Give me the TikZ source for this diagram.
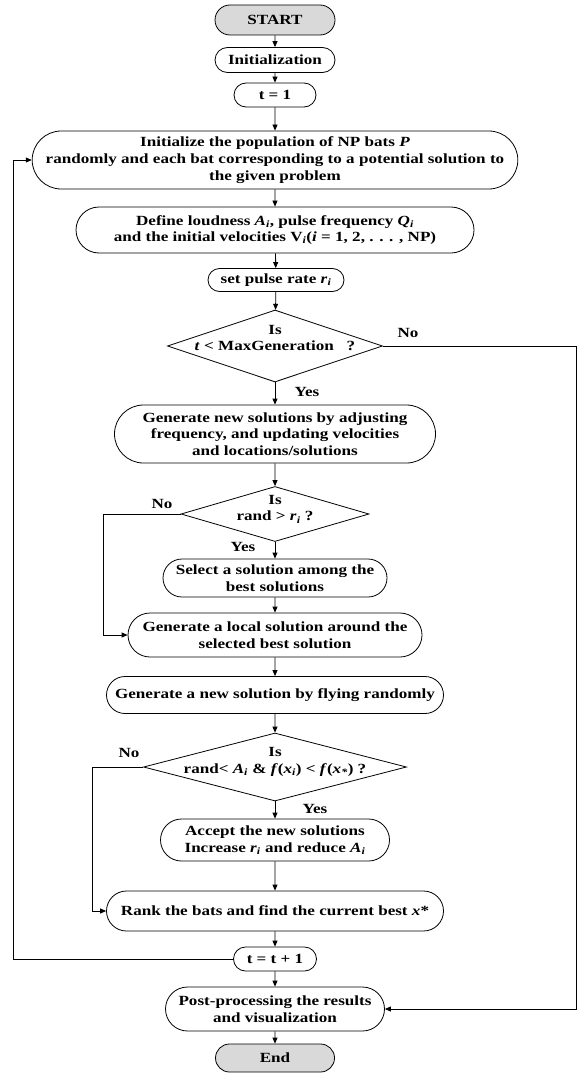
\documentclass[tikz,border=0pt]{standalone}
\usepackage{fontspec}
\setmainfont{Liberation Serif}[FakeStretch=1.22]
\usetikzlibrary{shapes.misc,shapes.geometric,arrows.meta}
\definecolor{termgray}{RGB}{217,217,217}
\newcommand{\sub}[2]{\textit{#1}\textsubscript{\textit{#2}}}

\tikzset{
  box/.style={rounded rectangle, draw, line width=0.8pt, align=center, inner sep=2pt,
    font=\fontsize{14}{16.7}\selectfont\bfseries},
  term/.style={box, fill=termgray},
  decision/.style={diamond, draw, line width=0.8pt, inner sep=0pt},
  tag/.style={font=\fontsize{14}{16.7}\selectfont\bfseries, inner sep=0pt, align=center},
  flow/.style={line width=0.8pt, -{Triangle[length=6pt,width=5pt]}},
}

\begin{document}
\begin{tikzpicture}[x=1pt,y=-1pt]
\path[use as bounding box] (0,0) rectangle (577,1073);

\node[term, minimum width=124, minimum height=30] (start) at (275,20) {START};
\node[box, minimum width=124, minimum height=25] (init) at (275,60) {Initialization};
\node[box, minimum width=86, minimum height=24] (tone) at (275,95) {t = 1};
\node[box, minimum width=476, minimum height=58] (pop) at (275,160)
  {Initialize the population of NP bats \textit{P}\\randomly and each bat corresponding to a potential solution to\\the given problem};
\node[box, minimum width=402, minimum height=46] (define) at (275,230)
  {Define loudness \sub{A}{i}, pulse frequency \sub{Q}{i}\\and the initial velocities V\textsubscript{\textit{i}}(\textit{i} = 1, 2, . . . , NP)};
\node[box, minimum width=140, minimum height=23] (pulse) at (276,280) {set pulse rate \sub{r}{i}};
\node[decision, minimum width=215, minimum height=72] (isgen) at (275,346) {};
\node[tag] (isgentext) at ([yshift=8pt]isgen.center) {Is\\\textit{t} < MaxGeneration~~~?};
\node[box, minimum width=325, minimum height=58] (gensol) at (275,434)
  {Generate new solutions by adjusting\\frequency, and updating velocities\\and locations/solutions};
\node[decision, minimum width=188, minimum height=55] (israte) at (275,514) {};
\node[tag] (isratetext) at ([yshift=5pt]israte.center) {Is\\rand > \sub{r}{i} ?};
\node[box, minimum width=228, minimum height=38] (select) at (275,578)
  {Select a solution among the\\best solutions};
\node[box, minimum width=298, minimum height=44] (local) at (275,635)
  {Generate a local solution around the\\selected best solution};
\node[box, minimum width=341, minimum height=37] (fly) at (275,695)
  {Generate a new solution by flying randomly};
\node[decision, minimum width=263, minimum height=68] (isbetter) at (275,767) {};
\node[tag] (isbettertext) at ([yshift=5pt]isbetter.center)
  {Is\\rand< \sub{A}{i} \& \textit{f}(\sub{x}{i}) < \textit{f}(\sub{x}{*}) ?};
\node[box, minimum width=233, minimum height=42] (accept) at (275,840)
  {Accept the new solutions\\Increase \sub{r}{i} and reduce \sub{A}{i}};
\node[box, minimum width=341, minimum height=40] (rank) at (275,911)
  {Rank the bats and find the current best \textit{x}*};
\node[box, minimum width=87, minimum height=24] (tnext) at (275,959) {t = t + 1};
\node[box, minimum width=223, minimum height=44] (post) at (275,1009)
  {Post-processing the results\\and visualization};
\node[term, minimum width=123, minimum height=28] (finish) at (275,1058) {End};

% labels on branches
\node[tag] (nogen) at (408,333) {No};
\node[tag] (yesgen) at (307,392) {Yes};
\node[tag] (norate) at (162,504) {No};
\node[tag] (yesrate) at (243,547) {Yes};
\node[tag] (nobetter) at (129,753) {No};
\node[tag] (yesbetter) at (315,809) {Yes};

% main line
\draw[flow] (start) -- (init);
\draw[flow] (init) -- (tone);
\draw[flow] (tone) -- (pop);
\draw[flow] (pop) -- (define);
\draw[flow] (define) -- (pulse);
\draw[flow] (pulse) -- (isgen);
\draw[flow] (isgen) -- (gensol);
\draw[flow] (gensol) -- (israte);
\draw[flow] (israte) -- (select);
\draw[flow] (select) -- (local);
\draw[flow] (local) -- (fly);
\draw[flow] (fly) -- (isbetter);
\draw[flow] (isbetter) -- (accept);
\draw[flow] (accept) -- (rank);
\draw[flow] (rank) -- (tnext);
\draw[flow] (tnext) -- (post);
\draw[flow] (post) -- (finish);

% side branches
\draw[flow] (isgen.east) -- ++(193,0) |- (post.east);
\draw[flow] (israte.west) -- ++(-77,0) |- (local.west);
\draw[flow] (isbetter.west) -- ++(-51,0) |- (rank.west);
\draw[flow] (tnext.west) -- ++(-220,0) |- (pop.west);
\end{tikzpicture}
\end{document}
